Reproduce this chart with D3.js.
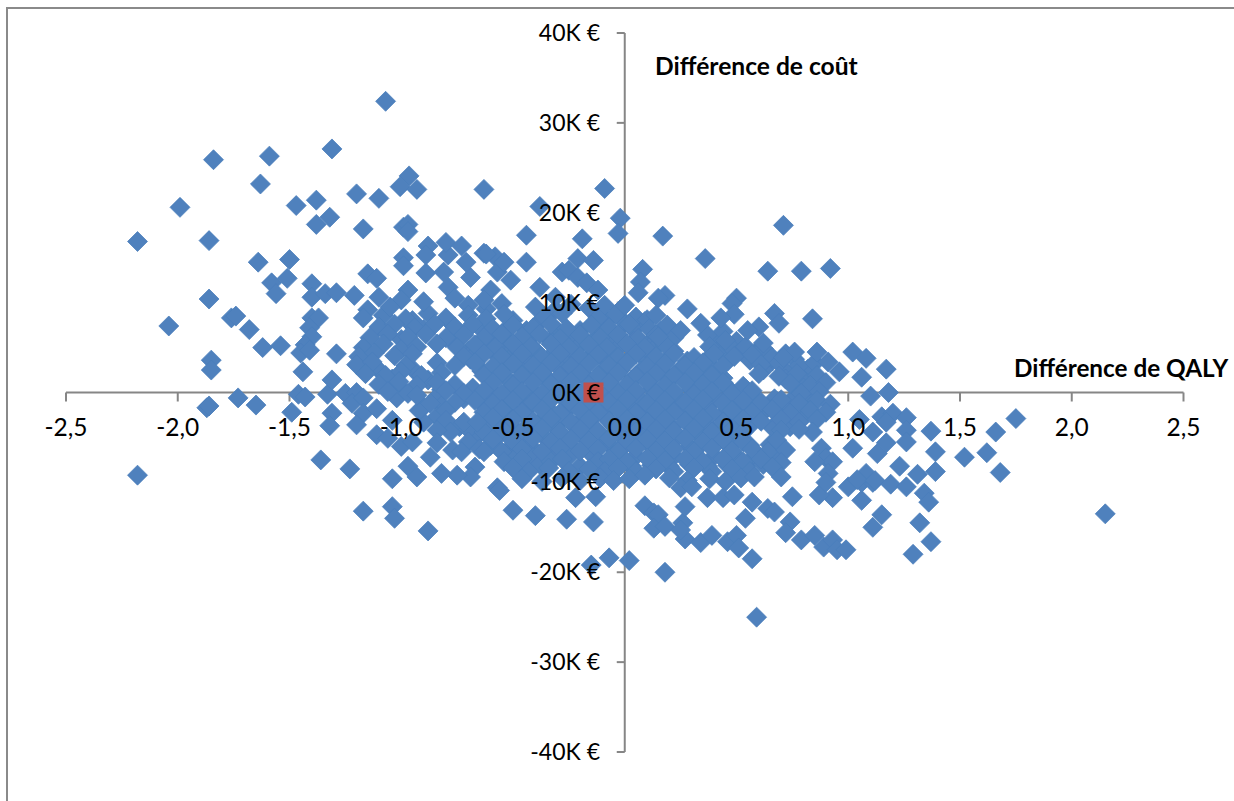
<!DOCTYPE html>
<html><head><meta charset="utf-8">
<script src="https://cdnjs.cloudflare.com/ajax/libs/d3/7.8.5/d3.min.js"></script>
<style>html,body{margin:0;padding:0;background:#fff}svg{display:block}</style>
</head><body><svg id="c" width="1234" height="801"></svg>
<script>
const xTicks=[-2.5,-2,-1.5,-1,-0.5,0,0.5,1,1.5,2,2.5];
const yTicks=[-40,-30,-20,-10,0,10,20,30,40];
const xTitle="Différence de QALY";
const yTitle="Différence de coût";
const referencePoint=[-0.14,0];
const upperLeft=[[-1.07,32.4],[-1.84,25.9],[-1.59,26.3],[-1.31,27.1],[-1.63,23.2],[-1.20,22.1],[-1.10,21.6],[-0.965,24.1],[-1.005,22.9],[-0.93,22.6],[-0.63,22.6],[-1.99,20.6],[-1.47,20.8],[-1.38,21.4],[-1.32,19.5],[-1.38,18.7],[-2.18,16.8],[-1.86,16.9],[-1.17,18.2],[-0.99,18.4],[-0.97,18.7],[-0.97,17.9],[-1.64,14.5],[-1.50,14.8],[-1.58,12.2],[-1.51,12.7],[-1.56,11.0],[-1.40,12.1],[-1.40,10.6],[-1.34,11.0],[-1.29,11.1],[-1.21,10.8],[-1.15,13.2],[-1.11,12.7],[-1.86,10.4],[-1.76,8.3],[-1.74,8.5],[-1.68,7.0],[-2.04,7.4],[-1.62,5.0],[-1.54,5.2],[-1.85,3.6],[-1.29,4.3],[-1.40,8.3],[-1.37,8.3],[-1.41,7.2],[-1.40,6.2],[-1.43,5.3],[-1.45,4.4],[-1.41,4.7],[-0.97,11.4],[-0.90,10.1],[-1.0,10.3],[-1.10,10.6],[-1.05,9.5],[-1.15,9.2],[-1.17,8.3],[-0.89,13.3],[-0.81,13.4],[-0.79,11.7],[-0.76,10.5],[-0.69,12.8],[-0.71,14.5],[-0.79,15.3],[-0.80,16.7],[-0.88,16.3],[-0.89,15.3],[-0.99,15.0],[-0.99,14.1],[-0.73,16.3],[-0.63,15.5],[-0.58,15.1],[-0.57,13.4],[-0.60,11.4],[-0.63,10.3],[-0.38,20.7],[-0.44,17.5],[-0.19,17.1],[-0.44,14.5],[-0.21,14.9],[-0.14,14.7],[-0.28,13.4],[-0.25,13.6],[-0.21,12.8],[-0.62,15.4],[-0.54,14.5],[-0.51,12.5],[-0.38,11.7],[-0.17,12.2],[-0.12,11.4],[-0.31,10.6],[-0.09,22.7],[-0.02,19.4],[-0.03,17.7]];
const upperRight=[[0.17,17.4],[0.71,18.6],[0.36,14.9],[0.64,13.5],[0.79,13.5],[0.92,13.8],[0.08,13.7],[0.07,12.3],[0.18,10.8],[0.15,10.5],[0.06,11.1],[0.0,9.7],[0.14,8.6],[0.28,9.3],[0.50,10.5],[0.48,9.9],[0.49,8.7],[0.67,8.8],[0.69,7.7],[0.84,8.2],[0.43,8.3],[0.34,7.7],[0.25,6.9],[0.15,6.2],[0.60,7.3],[0.55,6.9],[0.45,5.8],[0.62,5.5],[0.86,4.5],[1.02,4.5],[1.08,3.8],[0.91,3.4],[0.96,2.3],[1.06,1.7],[0.76,4.5],[0.71,3.9],[1.17,2.6],[1.10,-0.4],[1.18,0]];
const lowerLeft=[[-1.85,2.5],[-1.87,-1.7],[-1.86,-1.5],[-1.73,-0.6],[-1.65,-1.4],[-1.49,-2.2],[-1.46,-0.2],[-1.43,-0.5],[-1.44,2.3],[-1.33,-0.2],[-1.31,1.4],[-1.31,-2.3],[-1.32,-3.7],[-1.25,-0.1],[-1.20,0],[-1.22,-1.2],[-1.17,-0.6],[-1.17,-2.3],[-1.11,-1.8],[-1.20,-3.6],[-1.11,-4.7],[-1.06,-5.1],[-1.0,-6],[-0.95,-5.5],[-1.04,-3.1],[-0.92,-2],[-0.87,-1.2],[-0.93,-0.3],[-0.84,-4.2],[-0.84,-5.6],[-0.87,-7.2],[-0.77,-6.4],[-0.73,-6.6],[-0.72,-3.3],[-0.66,-3.3],[-0.59,-2.8],[-0.63,-6.6],[-0.67,-8.3],[-0.69,-9.4],[-0.75,-9.2],[-0.82,-9],[-0.97,-8.2],[-0.93,-9.4],[-1.04,-9.6],[-1.23,-8.5],[-1.36,-7.5],[-2.18,-9.2],[-1.17,-13.2],[-1.04,-12.7],[-1.03,-14],[-0.88,-15.4],[-0.57,-10.6],[-0.56,-10.9],[-0.50,-13.1],[-0.40,-13.7],[-0.26,-14.1],[-0.14,-14.4],[-0.22,-11.7],[-0.13,-11.6],[-0.15,-19.2],[-0.07,-18.4]];
const lowerRight=[[0.02,-18.7],[0.18,-20],[0.59,-25],[0.57,-18.5],[0.09,-12.6],[0.13,-13.4],[0.15,-13.6],[0.13,-15.1],[0.18,-14.9],[0.26,-14.5],[0.27,-12.7],[0.27,-16.3],[0.25,-15.3],[0.34,-16.7],[0.39,-15.9],[0.46,-16.6],[0.50,-15.9],[0.51,-17.3],[0.54,-14],[0.57,-12.2],[0.64,-12.9],[0.67,-13.3],[0.74,-14.4],[0.72,-15.6],[0.75,-11.6],[0.79,-16.4],[0.85,-15.9],[0.89,-17.2],[0.93,-16.4],[0.95,-17.5],[0.99,-17.5],[0.93,-11.7],[0.87,-11.4],[1.06,-12],[1.11,-15],[0.37,-11.7],[0.44,-11.7],[0.49,-11.4],[0.58,-9.4],[0.70,-9.4],[1.0,-10.5],[1.06,-10],[1.11,-10],[1.02,-6.2],[0.25,-10.6],[0.30,-10.5],[1.05,-3],[1.15,-2.7],[1.20,-2.3],[1.26,-2.8],[1.26,-4.2],[1.11,-4.4],[1.17,-3.3],[1.26,-5.5],[1.37,-4.3],[1.75,-2.9],[1.66,-4.4],[1.62,-6.7],[1.52,-7.2],[1.39,-6.6],[1.68,-8.9],[1.39,-8.8],[1.31,-9.1],[1.23,-8.2],[1.17,-5.6],[1.13,-6.8],[1.08,-9],[1.04,-9.7],[1.12,-9.8],[1.19,-10.2],[1.26,-10.5],[1.34,-11.2],[1.36,-12.2],[1.15,-13.6],[1.32,-14.5],[1.37,-16.6],[1.29,-18],[2.15,-13.5],[0.93,-7.7],[0.91,-9],[0.90,-10],[0.85,-7.7]];
const denseUpper=[[-0.70,9.7],[-0.62,9.3],[-0.55,9.9],[-0.40,9.5],[-0.31,9.2],[-0.24,9.8],[-0.16,9.4],[-0.09,9.7],[-0.02,9.2],
[-1.08,8.6],[-0.98,8.2],[-0.88,8.8],[-0.80,8.3],[-0.70,8.6],[-0.62,8.2],[-0.54,8.7],[-0.36,8.4],[-0.28,8.8],[-0.12,8.3],[-0.04,8.7],[0.05,8.4],[0.10,8.1],
[-1.10,7.3],[-1.03,7.6],[-0.94,7.2],[-0.85,7.6],[-0.76,7.3],[-0.68,7.6],[-0.59,7.1],[-0.50,7.5],[-0.41,7.2],[-0.33,7.6],[-0.26,7.1],[-0.15,7.5],[-0.07,7.2],[0.02,7.6],[0.11,7.1],[0.19,7.5],
[-1.14,6.1],[-1.06,6.5],[-0.97,6.2],[-0.89,6.5],[-0.80,6.1],[-0.72,6.4],[-0.63,6.1],[-0.55,6.5],[-0.46,6.2],[-0.38,6.5],[-0.29,6.0],[-0.20,6.4],[-0.11,6.1],[-0.03,6.4],[0.06,6.0],[0.14,6.4],[0.22,6.1],[0.37,6.4],[0.44,6.8],
[-1.17,5.0],[-1.08,5.4],[-0.93,5.1],[-0.84,5.4],[-0.75,5.0],[-0.67,5.3],[-0.58,5.0],[-0.50,5.4],[-0.42,5.1],[-0.33,5.4],[-0.25,5.0],[-0.16,5.3],[-0.08,5.0],[0.01,5.4],[0.09,5.0],[0.18,5.3],[0.38,5.1],[0.46,5.4],[0.54,5.1],[0.62,4.9],
[-1.19,4.0],[-1.12,4.4],[-1.03,4.1],[-0.95,4.3],[-0.72,4.0],[-0.63,4.3],[-0.55,4.0],[-0.46,4.3],[-0.37,3.9],[-0.29,4.3],[-0.20,4.0],[-0.12,4.2],[-0.03,3.9],[0.05,4.3],[0.14,4.0],[0.22,4.3],[0.31,3.9],[0.40,4.3],[0.49,4.0],[0.57,4.2],[0.66,3.9],[0.72,4.3],
[-1.20,3.1],[-1.13,3.4],[-0.98,3.0],[-0.84,3.3],[-0.76,3.0],[-0.67,3.3],[-0.59,2.9],[-0.50,3.2],[-0.41,3.0],[-0.33,3.3],[-0.24,2.9],[-0.16,3.2],[-0.07,3.0],[0.01,3.3],[0.10,2.9],[0.18,3.2],[0.27,3.0],[0.35,3.3],[0.44,3.0],[0.61,3.1],[0.69,3.3],[0.78,3.0],[0.85,3.3],
[-1.16,2.1],[-1.07,1.9],[-1.0,2.3],[-0.91,1.9],[-0.82,2.2],[-0.63,1.9],[-0.55,2.2],[-0.46,1.9],[-0.37,2.2],[-0.29,1.8],[-0.20,2.1],[-0.12,1.9],[-0.03,2.2],[0.05,1.8],[0.14,2.1],[0.22,1.9],[0.31,2.2],[0.39,1.9],[0.60,2.1],[0.69,1.8],[0.77,2.1],[0.86,1.9],
[-1.10,0.9],[-1.01,1.2],[-0.93,0.8],[-0.84,1.1],[-0.76,0.9],[-0.59,1.1],[-0.50,0.8],[-0.41,1.1],[-0.33,0.9],[-0.24,1.2],[-0.16,0.8],[-0.07,1.1],[0.01,0.9],[0.10,1.2],[0.18,0.8],[0.27,1.1],[0.35,0.9],[0.44,1.1],[0.53,0.7],[0.74,1.0],[0.83,0.8],[0.90,1.1],
[-1.06,0.1],[-0.97,-0.1],[-0.80,0.2],[-0.72,-0.1],[-0.63,0.2],[-0.55,-0.1],[-0.46,0.1],[-0.37,-0.1],[-0.29,0.2],[-0.20,-0.2],[-0.12,0.1],[-0.03,-0.1],[0.05,0.2],[0.14,-0.1],[0.22,0.1],[0.31,-0.2],[0.39,0.1],[0.48,-0.1],[0.57,0.2],[0.79,-0.1],[0.87,0.1]];
const denseLower=[[-0.76,-1.1],[-0.67,-0.9],[-0.59,-1.2],[-0.50,-0.9],[-0.41,-1.1],[-0.33,-0.8],[-0.24,-1.2],[-0.16,-0.9],[-0.07,-1.1],[0.01,-0.8],[0.10,-1.2],[0.18,-0.9],[0.27,-1.1],[0.35,-0.8],[0.44,-1.2],[0.53,-0.9],[0.61,-1.1],[0.70,-0.8],[0.78,-1.2],[0.86,-0.9],[0.92,-1.3],
[-0.80,-2.0],[-0.63,-2.2],[-0.55,-1.9],[-0.46,-2.2],[-0.37,-1.9],[-0.29,-2.3],[-0.20,-2.0],[-0.12,-2.2],[-0.03,-1.9],[0.05,-2.3],[0.14,-2.0],[0.22,-2.2],[0.31,-1.9],[0.39,-2.3],[0.48,-2.0],[0.57,-2.2],[0.66,-1.9],[0.74,-2.3],[0.83,-2.0],[0.90,-2.2],
[-0.90,-3.3],[-0.80,-3.1],[-0.59,-3.3],[-0.50,-3.0],[-0.41,-3.2],[-0.33,-2.9],[-0.24,-3.3],[-0.16,-3.0],[-0.07,-3.2],[0.01,-3.0],[0.10,-3.3],[0.18,-3.0],[0.27,-3.2],[0.35,-2.9],[0.44,-3.3],[0.53,-3.0],[0.61,-3.2],[0.70,-3.0],[0.78,-3.3],[0.86,-3.0],
[-0.78,-4.4],[-0.70,-4.1],[-0.63,-4.4],[-0.55,-4.1],[-0.46,-4.3],[-0.37,-4.0],[-0.29,-4.4],[-0.20,-4.1],[-0.12,-4.3],[-0.03,-4.0],[0.05,-4.4],[0.14,-4.1],[0.22,-4.3],[0.31,-4.0],[0.39,-4.4],[0.48,-4.1],[0.53,-4.4],[0.70,-4.2],[0.84,-4.4],[0.78,-4.1],
[-0.70,-5.5],[-0.59,-5.2],[-0.50,-5.4],[-0.41,-5.1],[-0.33,-5.5],[-0.24,-5.2],[-0.16,-5.4],[-0.07,-5.1],[0.01,-5.5],[0.10,-5.2],[0.18,-5.4],[0.27,-5.1],[0.35,-5.5],[0.44,-5.2],[0.53,-5.5],[0.68,-5.3],
[-0.65,-6.3],[-0.55,-6.6],[-0.46,-6.3],[-0.37,-6.6],[-0.29,-6.2],[-0.20,-6.5],[-0.12,-6.3],[-0.03,-6.6],[0.05,-6.2],[0.14,-6.5],[0.22,-6.3],[0.31,-6.6],[0.39,-6.2],[0.48,-6.5],[0.57,-6.3],[0.64,-6.6],[0.72,-6.4],[0.88,-6.2],
[-0.54,-7.7],[-0.46,-7.4],[-0.33,-7.7],[-0.28,-7.4],[-0.12,-7.7],[-0.07,-7.4],[0.01,-7.7],[0.10,-7.3],[0.18,-7.6],[0.27,-7.4],[0.35,-7.7],[0.44,-7.4],[0.53,-7.7],[0.61,-7.4],[0.70,-7.8],[0.90,-7.3],
[-0.50,-8.4],[-0.43,-8.8],[-0.34,-8.4],[-0.25,-8.8],[-0.16,-8.5],[-0.09,-8.8],[-0.03,-8.4],[0.05,-8.8],[0.14,-8.5],[0.22,-8.8],[0.31,-8.4],[0.39,-8.8],[0.48,-8.5],[0.56,-8.8],[0.66,-8.3],
[-0.46,-9.6],[-0.37,-9.9],[-0.28,-9.5],[-0.20,-9.8],[-0.11,-9.5],[-0.05,-9.8],[0.02,-9.6],[0.09,-9.2],[0.20,-9.5],[0.28,-9.8],[0.38,-9.6],[0.45,-9.9],[0.52,-9.5]];
const coreUpper=[[-0.95,8.0],[-0.50,8.0],[-0.38,7.9],[-0.08,8.0],[0.0,7.8],[0.09,7.9],
[-0.90,7.0],[-0.64,7.0],[-0.54,6.8],[-0.44,6.9],[-0.30,6.8],[-0.20,6.9],[-0.10,6.8],[0.04,7.0],[0.16,6.8],
[-1.0,5.9],[-0.78,5.9],[-0.60,5.8],[-0.52,5.7],[-0.43,5.9],[-0.33,5.7],[-0.24,5.8],[-0.14,5.7],[-0.05,5.9],[0.04,5.7],[0.12,5.8],[0.20,5.7],[0.41,5.9],[0.50,5.7],
[-1.0,4.8],[-0.70,4.6],[-0.60,4.8],[-0.52,4.6],[-0.40,4.7],[-0.31,4.6],[-0.22,4.8],[-0.13,4.6],[-0.04,4.7],[0.05,4.6],[0.13,4.8],[0.22,4.6],[0.42,4.7],[0.52,4.6],[0.60,4.8],
[-1.16,3.6],[-0.69,3.7],[-0.52,3.6],[-0.44,3.5],[-0.34,3.7],[-0.26,3.5],[-0.17,3.6],[-0.08,3.5],[0.02,3.7],[0.10,3.5],[0.19,3.6],[0.28,3.5],[0.37,3.7],[0.46,3.5],[0.56,3.6],[0.66,3.5],[0.76,3.7],
[-1.10,2.5],[-0.94,2.4],[-0.64,2.4],[-0.55,2.6],[-0.46,2.4],[-0.37,2.5],[-0.28,2.4],[-0.20,2.6],[-0.10,2.4],[-0.02,2.5],[0.07,2.4],[0.16,2.6],[0.24,2.4],[0.33,2.5],[0.40,2.6],[0.62,2.5],[0.72,2.4],[0.82,2.6],
[-1.04,1.5],[-0.88,1.4],[-0.60,1.6],[-0.52,1.4],[-0.42,1.5],[-0.34,1.4],[-0.25,1.6],[-0.16,1.4],[-0.06,1.5],[0.03,1.4],[0.12,1.6],[0.20,1.4],[0.29,1.5],[0.38,1.4],[0.44,1.6],[0.72,1.5],[0.80,1.4],
[-1.0,0.4],[-0.82,0.3],[-0.68,0.5],[-0.60,0.3],[-0.50,0.4],[-0.42,0.3],[-0.33,0.5],[-0.24,0.3],[-0.15,0.4],[-0.06,0.3],[0.03,0.5],[0.12,0.3],[0.20,0.4],[0.30,0.3],[0.38,0.5],[0.47,0.3],[0.54,0.4],[0.80,0.5]];
const coreLower=[[-1.02,-0.6],[-0.84,-0.5],[-0.72,-0.7],[-0.62,-0.5],[-0.54,-0.7],[-0.46,-0.6],[-0.36,-0.7],[-0.28,-0.5],[-0.19,-0.7],[-0.10,-0.6],[-0.02,-0.7],[0.06,-0.5],[0.15,-0.7],[0.24,-0.6],[0.32,-0.7],[0.41,-0.5],[0.50,-0.7],[0.58,-0.6],[0.67,-0.7],[0.76,-0.5],[0.84,-0.7],
[-0.90,-1.6],[-0.82,-1.5],[-0.62,-1.7],[-0.52,-1.5],[-0.44,-1.7],[-0.35,-1.6],[-0.25,-1.7],[-0.16,-1.5],[-0.07,-1.7],[0.02,-1.6],[0.10,-1.7],[0.20,-1.5],[0.28,-1.7],[0.37,-1.6],[0.46,-1.7],[0.54,-1.5],[0.64,-1.7],[0.72,-1.6],[0.80,-1.7],
[-0.84,-2.7],[-0.62,-2.6],[-0.54,-2.8],[-0.44,-2.6],[-0.36,-2.8],[-0.27,-2.7],[-0.18,-2.8],[-0.09,-2.6],[0.0,-2.8],[0.09,-2.7],[0.17,-2.8],[0.26,-2.6],[0.35,-2.8],[0.43,-2.7],[0.52,-2.8],[0.60,-2.6],[0.70,-2.8],[0.80,-2.7],
[-0.74,-3.8],[-0.58,-3.7],[-0.50,-3.9],[-0.40,-3.7],[-0.31,-3.9],[-0.22,-3.8],[-0.14,-3.9],[-0.05,-3.7],[0.04,-3.9],[0.12,-3.8],[0.21,-3.9],[0.30,-3.7],[0.38,-3.9],[0.47,-3.8],[0.56,-3.7],[0.66,-3.9],[0.74,-3.8],
[-0.66,-4.8],[-0.56,-4.7],[-0.46,-4.9],[-0.37,-4.7],[-0.28,-4.9],[-0.19,-4.8],[-0.10,-4.9],[-0.02,-4.7],[0.07,-4.9],[0.16,-4.8],[0.24,-4.9],[0.33,-4.7],[0.42,-4.9],[0.50,-4.8],
[-0.60,-5.9],[-0.50,-5.8],[-0.42,-6.0],[-0.33,-5.8],[-0.24,-6.0],[-0.15,-5.9],[-0.06,-6.0],[0.03,-5.8],[0.12,-6.0],[0.20,-5.9],[0.29,-6.0],[0.38,-5.8],[0.47,-6.0],[0.56,-5.9],[0.65,-5.8],
[-0.50,-7.0],[-0.42,-6.9],[-0.32,-7.1],[-0.24,-6.9],[-0.14,-7.1],[-0.05,-7.0],[0.05,-7.1],[0.14,-6.9],[0.22,-7.1],[0.31,-7.0],[0.40,-7.1],[0.49,-6.9],[0.58,-7.1],[0.66,-7.0],
[-0.46,-8.1],[-0.38,-8.0],[-0.20,-8.2],[-0.05,-8.0],[0.03,-8.2],[0.12,-8.1],[0.20,-8.2],[0.29,-8.0],[0.37,-8.2],[0.46,-8.1],[0.54,-8.2],[0.62,-8.0]];

const allPoints=[...coreUpper,...coreLower,...denseUpper,...denseLower,...upperLeft,...upperRight,...lowerLeft,...lowerRight];
const x=d3.scaleLinear().domain([-2.5,2.5]).range([66,1183.5]);
const y=d3.scaleLinear().domain([-40,40]).range([752,33]);
const svg=d3.select("#c");
const grey="#868686",font="Lato, 'Open Sans', sans-serif";
svg.append("path").attr("d","M7,801V8H1234").attr("fill","none").attr("stroke","#8a8a8a").attr("stroke-width",2);
const ax=svg.append("g");
ax.append("line").attr("x1",x(-2.5)).attr("x2",x(2.5)).attr("y1",y(0)).attr("y2",y(0)).attr("stroke",grey).attr("stroke-width",2);
ax.append("line").attr("x1",x(0)).attr("x2",x(0)).attr("y1",y(40)).attr("y2",y(-40)).attr("stroke",grey).attr("stroke-width",2);
ax.selectAll(".tx").data(xTicks).join("line").attr("x1",d=>x(d)).attr("x2",d=>x(d)).attr("y1",y(0)).attr("y2",y(0)+9).attr("stroke",grey).attr("stroke-width",2);
ax.selectAll(".ty").data(yTicks).join("line").attr("x1",x(0)-8).attr("x2",x(0)).attr("y1",d=>y(d)).attr("y2",d=>y(d)).attr("stroke",grey).attr("stroke-width",2);
const dia="M0,-10L10,0L0,10L-10,0Z";
svg.append("g").selectAll("path").data(allPoints).join("path").attr("d",dia)
 .attr("transform",d=>`translate(${x(d[0])},${y(d[1])})`).attr("fill","#4F81BD").attr("stroke","#4A7EBB").attr("stroke-width",0.75);
svg.append("rect").attr("x",x(referencePoint[0])-10).attr("y",y(referencePoint[1])-10).attr("width",20).attr("height",20).attr("fill","#C0504D");
const lab=svg.append("g").attr("font-family",font).attr("fill","#000");
lab.selectAll(".xl").data(xTicks).join("text").attr("x",d=>x(d)).attr("y",436).attr("text-anchor","middle").attr("font-size",24.5)
 .text(d=>d.toFixed(1).replace(".",","));
lab.selectAll(".yl").data(yTicks).join("text").attr("x",600).attr("y",d=>y(d)+8).attr("text-anchor","end").attr("font-size",23)
 .text(d=>d+"K €");
lab.append("text").attr("x",655).attr("y",75).attr("font-size",24.6).attr("font-weight",700).text(yTitle);
lab.append("text").attr("x",1014).attr("y",377).attr("font-size",24.3).attr("font-weight",700).text(xTitle);
</script></body></html>
